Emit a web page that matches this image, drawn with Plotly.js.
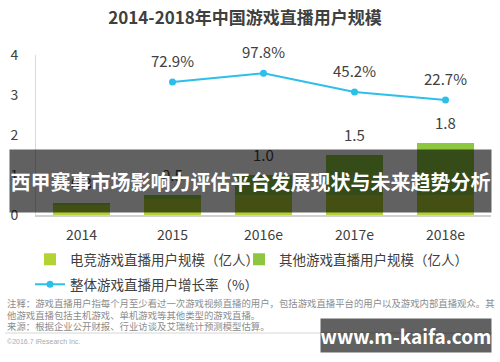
<!DOCTYPE html>
<html>
<head>
<meta charset="utf-8">
<script src="https://cdn.plot.ly/plotly-3.0.1.min.js"></script>
<style>html,body{margin:0;padding:0;background:#fff;}#chart{width:500px;height:362px;}</style>
</head>
<body>
<div id="chart"></div>
<script>
// ---- data ----
var categories = ['2014', '2015', '2016e', '2017e', '2018e'];
var esportsUsers = [0.25, 0.4, 0.5, 0.5, 0.5];      // 电竞游戏直播用户规模（亿人）
var otherUsers = [0.05, 0.1, 0.5, 1.0, 1.3];        // 其他游戏直播用户规模（亿人）
var growthCategories = ['2015', '2016e', '2017e', '2018e'];
var growthRate = [72.9, 97.8, 45.2, 22.7];          // 整体游戏直播用户增长率（%）
var yTicks = [0, 1, 2, 3, 4];

var seriesNames = ['电竞游戏直播用户规模（亿人）', '其他游戏直播用户规模（亿人）', '整体游戏直播用户增长率（%）'];
var titleText = '2014-2018年中国游戏直播用户规模';
var notes = [
  '注释：游戏直播用户指每个月至少看过一次游戏视频直播的用户，包括游戏直播平台的用户以及游戏内部直播观众。其',
  '他游戏直播包括主机游戏、单机游戏等其他类型的游戏直播。',
  '来源：根据企业公开财报、行业访谈及艾瑞统计预测模型估算。'
];
var copyright = '©2016.7 iResearch Inc.';
var bannerText = '西甲赛事市场影响力评估平台发展现状与未来趋势分析';
var siteText = 'www.m-kaifa.com';

// ---- build ----
var FONT = '"Noto Sans CJK SC", "Noto Sans", sans-serif';
var TXT = '#404040';
var totals = esportsUsers.map(function (v, i) { return v + otherUsers[i]; });

var traces = [
  {type: 'bar', name: seriesNames[0], x: categories, y: esportsUsers, legend: 'legend',
   marker: {color: '#b3d234'}, hoverinfo: 'none'},
  {type: 'bar', name: seriesNames[1], x: categories, y: otherUsers, legend: 'legend2',
   marker: {color: '#8dc63f'}, hoverinfo: 'none'},
  {type: 'scatter', mode: 'lines+markers', name: seriesNames[2], x: growthCategories, y: growthRate,
   legend: 'legend3', yaxis: 'y2', line: {color: '#2cbfea', width: 2}, marker: {color: '#2cbfea', size: 7}, hoverinfo: 'none'}
];

var annotations = [];
categories.forEach(function (c, i) {
  annotations.push({x: i, y: totals[i], xref: 'x', yref: 'y', text: totals[i].toFixed(1),
    showarrow: false, yanchor: 'bottom', yshift: 8, font: {family: FONT, size: 15, color: TXT}});
});
growthCategories.forEach(function (c, i) {
  annotations.push({x: categories.indexOf(c), y: growthRate[i], xref: 'x', yref: 'y2', text: growthRate[i].toFixed(1) + '%',
    showarrow: false, yanchor: 'bottom', yshift: 9, font: {family: FONT, size: 15, color: TXT}});
});
// plot area: x 36..491 px, y 55..215 px
function px(x) { return (x - 36) / 455; }
function py(y) { return (215 - y) / 160; }
var noteY = [303, 314.5, 326];
notes.forEach(function (t, i) {
  annotations.push({x: px(5), y: py(noteY[i]), xref: 'paper', yref: 'paper', text: t, showarrow: false,
    xanchor: 'left', yanchor: 'middle', font: {family: FONT, size: 9.4, color: '#8c8c8c'}});
});
annotations.push({x: px(5), y: py(341), xref: 'paper', yref: 'paper', text: copyright, showarrow: false,
  xanchor: 'left', yanchor: 'middle', font: {family: 'Liberation Sans, Arial, sans-serif', size: 7, color: '#aaaaaa'}});
// watermark banners
annotations.push({x: px(250.5), y: py(181), xref: 'paper', yref: 'paper', text: '<b>' + bannerText + '</b>',
  showarrow: false, xanchor: 'center', yanchor: 'middle', width: 481, height: 62, borderpad: 0,
  bgcolor: 'rgba(0,0,0,0.62)', font: {family: FONT, size: 20, color: '#ffffff'}});
annotations.push({x: px(406), y: py(335.5), xref: 'paper', yref: 'paper', text: '<b>' + siteText + '</b>',
  showarrow: false, xanchor: 'center', yanchor: 'middle', width: 170, height: 33, borderpad: 0,
  bgcolor: 'rgba(0,0,0,0.62)', font: {family: FONT, size: 19, color: '#ffffff'}});

function legendAt(x, y) {
  return {orientation: 'h', x: px(x), y: py(y), xanchor: 'left', yanchor: 'top',
    font: {family: FONT, size: 13.5, color: TXT}, bgcolor: 'rgba(0,0,0,0)', itemwidth: 30};
}

var layout = {
  width: 500, height: 362,
  margin: {l: 36, r: 9, t: 55, b: 147},
  paper_bgcolor: '#ffffff', plot_bgcolor: '#ffffff',
  font: {family: FONT, color: TXT},
  title: {text: '<b>' + titleText + '</b>', font: {family: FONT, size: 17, color: '#404040'},
    x: 0.49, xref: 'container', xanchor: 'center', y: 1 - 18 / 362, yref: 'container', yanchor: 'middle'},
  barmode: 'stack', bargap: 0.37,
  xaxis: {type: 'category', range: [-0.5, 4.5], autorange: false, showline: true, linecolor: '#d0d0d0', linewidth: 2, showgrid: false,
    ticks: '', ticklabelstandoff: 6, tickfont: {family: FONT, size: 14, color: TXT}, fixedrange: true},
  yaxis: {range: [0, 4], autorange: false, tickvals: yTicks, showline: true, linecolor: '#d9d9d9', linewidth: 1,
    showgrid: false, zeroline: false, ticks: '', ticklabelstandoff: 14,
    tickfont: {family: FONT, size: 14, color: TXT}, fixedrange: true},
  yaxis2: {overlaying: 'y', range: [-301, 149], autorange: false, visible: false, fixedrange: true},
  showlegend: true,
  legend: legendAt(30, 244),
  legend2: legendAt(239, 244),
  legend3: legendAt(30, 269),
  annotations: annotations,
  shapes: [{type: 'line', xref: 'paper', yref: 'paper', x0: px(5), x1: px(492), y0: py(333), y1: py(333),
    line: {color: '#d6d6d6', width: 1}}]
};

Plotly.newPlot('chart', traces, layout, {displayModeBar: false, staticPlot: true});
</script>
</body>
</html>
